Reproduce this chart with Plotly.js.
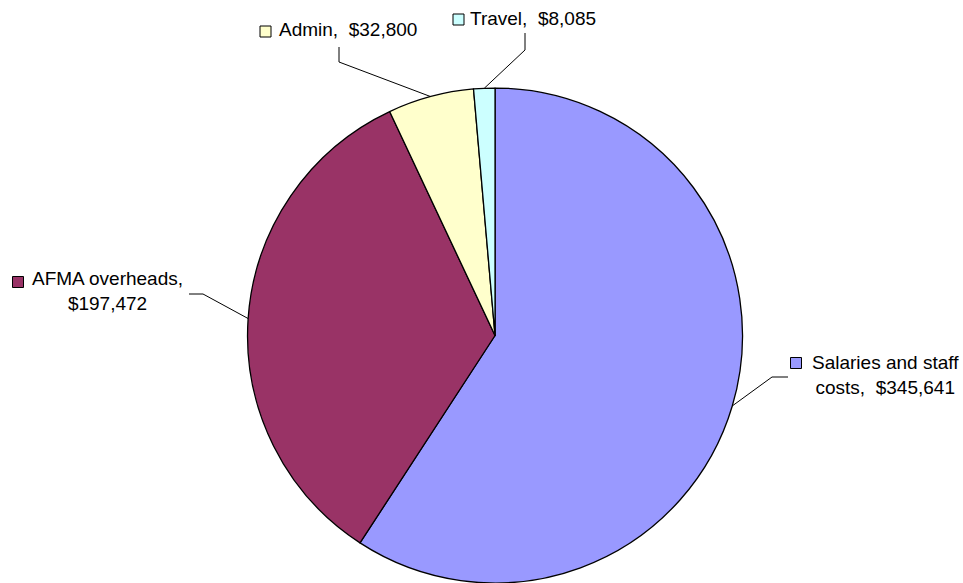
<!DOCTYPE html>
<html><head><meta charset="utf-8">
<script src="https://cdn.plot.ly/plotly-3.0.1.min.js"></script>
<style>html,body{margin:0;padding:0;overflow:hidden;background:#fff}</style>
</head><body><div id="chart" style="width:963px;height:583px"></div>
<script>
var categories = ["Salaries and staff costs", "AFMA overheads", "Admin", "Travel"];
var values = [345641, 197472, 32800, 8085];
var labelLines = [["Salaries and staff", "costs,\u00a0\u00a0$345,641"], ["AFMA overheads,", "$197,472"], ["Admin,\u00a0\u00a0$32,800"], ["Travel,\u00a0\u00a0$8,085"]];
var colors = ["#9999FF", "#993366", "#FFFFCC", "#CCFFFF"];

var W = 963, H = 583;
var dom = {x: [0.2555, 0.7726], y: [0, 0.849]};
// label layout (pixels): text centre, key square centre, elbow point, leader end
var labelLayout = [
  {tx: 885, ty: 375, kx: 796, ky: 363, elbow: [772, 377], end: [788, 377]},
  {tx: 107, ty: 291, kx: 18, ky: 282, elbow: [203, 294], end: [189, 294]},
  {tx: 347.5, ty: 29.5, kx: 265.5, ky: 31.5, elbow: [339, 62], end: [339, 47]},
  {tx: 532.5, ty: 18.5, kx: 458.5, ky: 19.5, elbow: [525, 50], end: [525, 33]}
];

function px(x){return x / W;}
function py(y){return 1 - y / H;}

var wPx = (dom.x[1]-dom.x[0])*W, hPx = (dom.y[1]-dom.y[0])*H;
var R = Math.min(wPx, hPx)/2;
var cx = (dom.x[0]+dom.x[1])/2*W, cy = H - (dom.y[0]+dom.y[1])/2*H;

var total = values.reduce(function(a,b){return a+b;},0);
var shapes = [], annotations = [];
var cum = 0;
values.forEach(function(v, i){
  var mid = (cum + v/2)/total * 2*Math.PI;
  cum += v;
  var sx = cx + R*Math.sin(mid), sy = cy - R*Math.cos(mid);
  var L = labelLayout[i];
  shapes.push({type:'path', xref:'paper', yref:'paper',
    path: 'M' + px(sx) + ',' + py(sy) + ' L' + px(L.elbow[0]) + ',' + py(L.elbow[1]) + ' L' + px(L.end[0]) + ',' + py(L.end[1]),
    line:{color:'#000', width:1}});
  shapes.push({type:'rect', xref:'paper', yref:'paper',
    x0: px(L.kx-5.5), x1: px(L.kx+5.5), y0: py(L.ky+5.5), y1: py(L.ky-5.5),
    fillcolor: colors[i], line:{color:'#000', width:1}});
  annotations.push({xref:'paper', yref:'paper', x: px(L.tx), y: py(L.ty),
    xanchor:'center', yanchor:'middle', align:'center', showarrow:false,
    text: labelLines[i].join('<br>'),
    font:{family:'Liberation Sans, Arial, sans-serif', size:19, color:'#000'}});
});

var trace = {
  type:'pie', labels: categories, values: values, sort:false,
  direction:'clockwise', rotation:0, textinfo:'none', hoverinfo:'label+value',
  marker:{colors: colors, line:{color:'#000', width:1.3}},
  domain: dom, showlegend:false
};
Plotly.newPlot('chart', [trace], {
  width: W, height: H, margin:{l:0,r:0,t:0,b:0},
  paper_bgcolor:'#fff', showlegend:false,
  shapes: shapes, annotations: annotations
}, {displayModeBar:false, staticPlot:true});
</script></body></html>
